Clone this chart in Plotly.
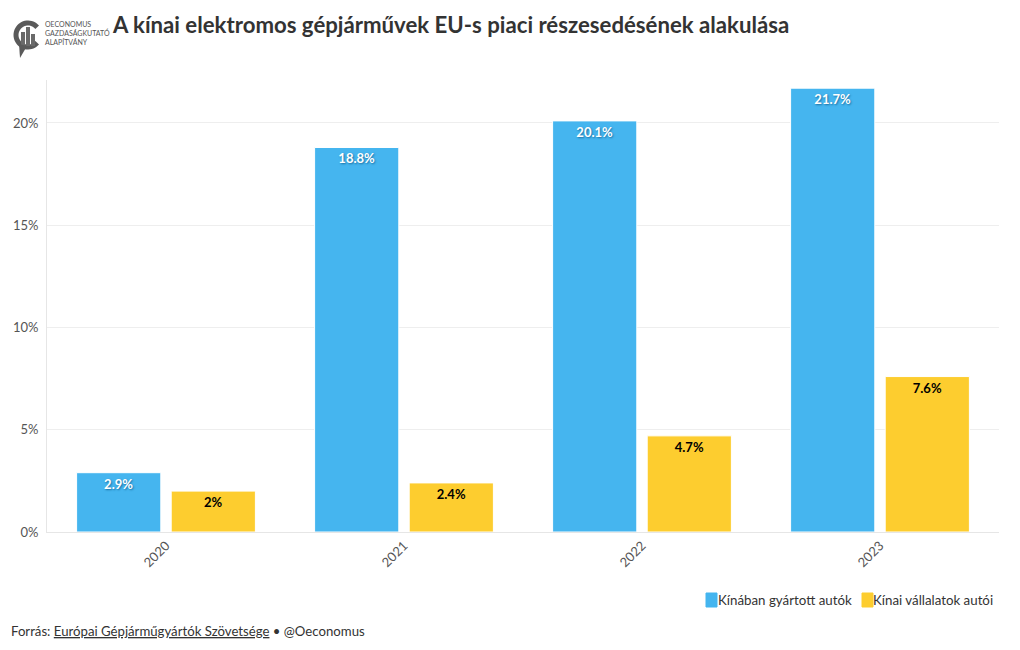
import math
import plotly.graph_objects as go

years = ["2020", "2021", "2022", "2023"]
made_in_china = [2.9, 18.8, 20.1, 21.7]
chinese_brands = [2.0, 2.4, 4.7, 7.6]
labels_made = ["2.9%", "18.8%", "20.1%", "21.7%"]
labels_brands = ["2%", "2.4%", "4.7%", "7.6%"]
series_names = ["Kínában gyártott autók", "Kínai vállalatok autói"]
colors = ["#45b5ef", "#fdcd2f"]

FONT = "Lato"

# screen geometry of the plot area (used for decorations only)
PL, PR, PT, PB = 46, 998, 80, 532
OX, OY = 7, 8  # page offset of the figure


def px(sx):
    return (sx - PL) / (PR - PL)


def py(sy):
    return (PB - sy) / (PB - PT)


fig = go.Figure()
fig.add_trace(go.Bar(
    x=years, y=made_in_china, name=series_names[0],
    marker=dict(color=colors[0], line=dict(color="#ffffff", width=1)),
    text=["<b>" + t + "</b>" for t in labels_made], textposition="inside",
    insidetextanchor="end",
    textfont=dict(color="white", size=13, family=FONT, shadow="1px 1px 2px #1a6fa0"),
    hoverinfo="skip", showlegend=False,
))
fig.add_trace(go.Bar(
    x=years, y=chinese_brands, name=series_names[1],
    marker=dict(color=colors[1], line=dict(color="#ffffff", width=1)),
    text=["<b>" + t + "</b>" for t in labels_brands], textposition="inside",
    insidetextanchor="end",
    textfont=dict(color="black", size=13, family=FONT),
    hoverinfo="skip", showlegend=False,
))

fig.update_layout(
    width=1020, height=650,
    margin=dict(l=PL - OX, r=1020 - PR + OX, t=PT - OY, b=650 - PB + OY),
    paper_bgcolor="white", plot_bgcolor="white",
    font=dict(family=FONT, color="#444444", size=13),
    barmode="group", bargap=0.205, bargroupgap=0.11,
    showlegend=False,
    xaxis=dict(tickangle=-45, showgrid=False, showline=True, linecolor="#e6e6e6",
               ticks="", automargin=False, tickfont=dict(size=13, color="#555555")),
    yaxis=dict(range=[0, 22.1], tickvals=[0, 5, 10, 15, 20],
               ticktext=["0%", "5%", "10%", "15%", "20%"],
               showgrid=True, gridcolor="#eeeeee", zeroline=False,
               showline=True, linecolor="#e6e6e6", ticklabelstandoff=5,
               automargin=False, tickfont=dict(size=13, color="#555555")),
    uniformtext=dict(minsize=8, mode="show"),
)

# title
fig.add_annotation(
    text="<b>A kínai elektromos gépjárművek EU-s piaci részesedésének alakulása</b>",
    xref="paper", yref="paper", x=px(109), y=py(24), xanchor="left", yanchor="middle",
    showarrow=False, font=dict(size=22.2, color="#333333", family=FONT),
)
# logo text
fig.add_annotation(
    text="OECONOMUS<br>GAZDASÁGKUTATÓ<br>ALAPÍTVÁNY",
    xref="paper", yref="paper", x=px(42), y=py(33), xanchor="left", yanchor="middle",
    showarrow=False, align="left",
    font=dict(size=7, color="#555555", family=FONT),
)
# logo mark: ring + bars + tail
cx, cy, r = 27, 35, 12
pts = []
for i in range(0, 41):
    a = math.radians(40 + i * (320 - 40) / 40)
    pts.append((cx + r * math.cos(a), cy - r * math.sin(a)))
path = "M " + " L ".join(f"{px(x):.5f},{py(y):.5f}" for x, y in pts)
fig.add_shape(type="path", xref="paper", yref="paper", path=path,
              line=dict(color="#5a5a5a", width=5))
for bx0, bx1, btop in [(20, 24, 32), (25, 29, 27), (30, 34, 34)]:
    fig.add_shape(type="rect", xref="paper", yref="paper",
                  x0=px(bx0), x1=px(bx1), y0=py(46), y1=py(btop),
                  line=dict(width=0), fillcolor="#6a6a6a")
fig.add_shape(type="path", xref="paper", yref="paper",
              path=f"M {px(18):.5f},{py(44):.5f} L {px(19):.5f},{py(58):.5f} L {px(26):.5f},{py(46):.5f} Z",
              line=dict(width=0), fillcolor="#5a5a5a")

# legend (custom)
leg = [(705, 717, series_names[0], colors[0]), (861, 872, series_names[1], colors[1])]
for sx0, tx, name, col in leg:
    fig.add_shape(type="rect", xref="paper", yref="paper",
                  x0=px(sx0), x1=px(sx0 + 11), y0=py(593), y1=py(607),
                  line=dict(color=col, width=1), fillcolor=col)
    fig.add_annotation(text=name, xref="paper", yref="paper", x=px(tx - 2), y=py(600),
                       xanchor="left", yanchor="middle", showarrow=False,
                       font=dict(size=13.3, color="#333333", family=FONT))

# source
fig.add_annotation(
    text="Forrás: <u>Európai Gépjárműgyártók Szövetsége</u> • @Oeconomus",
    xref="paper", yref="paper", x=px(8), y=py(631), xanchor="left", yanchor="middle",
    showarrow=False, font=dict(size=13.2, color="#333333", family=FONT),
)

fig.write_html("out.html")
